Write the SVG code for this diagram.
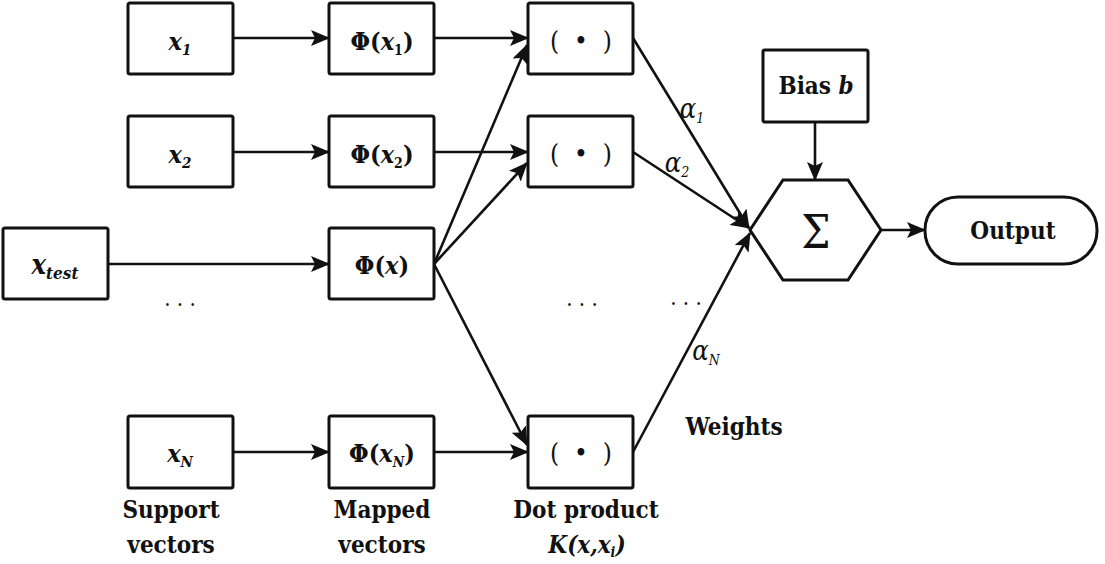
<svg xmlns="http://www.w3.org/2000/svg" width="1105" height="564" viewBox="0 0 1105 564">
<style>
.box{fill:#fff;stroke:#111;stroke-width:3}
.ln{fill:none;stroke:#111;stroke-width:2.6}
.i{font-style:italic}
.n{font-weight:normal}
</style>
<defs>
<marker id="ah" markerUnits="userSpaceOnUse" markerWidth="20" markerHeight="16" refX="18" refY="8" orient="auto">
<path d="M0,0 L19,8 L0,16 L4,8 Z" fill="#111"/>
</marker>
</defs>
<rect width="1105" height="564" fill="#fff"/>
<g id="connectors" class="ln">
<line x1="233" y1="38" x2="329" y2="38" marker-end="url(#ah)"/>
<line x1="233" y1="152" x2="329" y2="152" marker-end="url(#ah)"/>
<line x1="108" y1="264" x2="329" y2="264" marker-end="url(#ah)"/>
<line x1="233" y1="452" x2="329" y2="452" marker-end="url(#ah)"/>
<line x1="434" y1="38" x2="528" y2="38" marker-end="url(#ah)"/>
<line x1="434" y1="152" x2="528" y2="152" marker-end="url(#ah)"/>
<line x1="434" y1="452" x2="528" y2="452" marker-end="url(#ah)"/>
<line x1="434" y1="264" x2="527" y2="45" marker-end="url(#ah)"/>
<line x1="434" y1="264" x2="527" y2="163" marker-end="url(#ah)"/>
<line x1="434" y1="264" x2="527" y2="445" marker-end="url(#ah)"/>
<line x1="633" y1="38" x2="749" y2="228" marker-end="url(#ah)"/>
<line x1="633" y1="152" x2="749" y2="228" marker-end="url(#ah)"/>
<line x1="633" y1="452" x2="750" y2="233" marker-end="url(#ah)"/>
<line x1="815" y1="122" x2="815" y2="180" marker-end="url(#ah)"/>
<line x1="882" y1="230" x2="925" y2="230" marker-end="url(#ah)"/>
</g>
<g font-family="'DejaVu Serif', 'Liberation Serif', 'Times New Roman', serif" font-stretch="condensed" font-weight="bold" text-anchor="middle" fill="#111">
<g id="x1"><rect class="box" x="128" y="3" width="105" height="71" rx="2"/><text class="i" x="180" y="50" font-size="25">x<tspan font-size="15" dy="5">1</tspan></text></g>
<g id="x2"><rect class="box" x="128" y="116" width="105" height="71" rx="2"/><text class="i" x="180" y="163" font-size="25">x<tspan font-size="15" dy="5">2</tspan></text></g>
<g id="xtest"><rect class="box" x="3" y="228" width="105" height="71" rx="2"/><text class="i" x="55" y="274" font-size="27">x<tspan font-size="17" dy="5">test</tspan></text></g>
<g id="xN"><rect class="box" x="128" y="416" width="105" height="72" rx="2"/><text class="i" x="180" y="462" font-size="25">x<tspan font-size="15" dy="5">N</tspan></text></g>
<g id="phix1"><rect class="box" x="329" y="3" width="105" height="71" rx="2"/><text x="382" y="50" font-size="25">Φ(<tspan class="i">x</tspan><tspan font-size="14" dy="5">1</tspan><tspan dy="-5">)</tspan></text></g>
<g id="phix2"><rect class="box" x="329" y="116" width="105" height="71" rx="2"/><text x="382" y="163" font-size="25">Φ(<tspan class="i">x</tspan><tspan font-size="14" dy="5">2</tspan><tspan dy="-5">)</tspan></text></g>
<g id="phix"><rect class="box" x="329" y="228" width="105" height="71" rx="2"/><text x="382" y="274" font-size="25">Φ(<tspan class="i">x</tspan>)</text></g>
<g id="phixN"><rect class="box" x="329" y="416" width="105" height="72" rx="2"/><text x="382" y="462" font-size="25">Φ(<tspan class="i">x</tspan><tspan class="i" font-size="14" dy="5">N</tspan><tspan dy="-5">)</tspan></text></g>
<g id="dot1"><rect class="box" x="528" y="3" width="105" height="71" rx="2"/><text class="n" x="581" y="50" font-size="26" xml:space="preserve">(  •  )</text></g>
<g id="dot2"><rect class="box" x="528" y="116" width="105" height="71" rx="2"/><text class="n" x="581" y="163" font-size="26" xml:space="preserve">(  •  )</text></g>
<g id="dot3"><rect class="box" x="528" y="416" width="105" height="72" rx="2"/><text class="n" x="581" y="462" font-size="26" xml:space="preserve">(  •  )</text></g>
<g id="bias"><rect class="box" x="763" y="50" width="105" height="72" rx="2"/><text x="816" y="94" font-size="24">Bias <tspan class="i">b</tspan></text></g>
<g id="sum"><polygon class="box" points="750,230 783,180 848,180 881,230 848,280 783,280"/><text class="n" x="816" y="248" font-size="46">Σ</text></g>
<g id="output"><rect class="box" x="925" y="197" width="172" height="67" rx="33"/><text x="1013" y="239" font-size="24">Output</text></g>
<g id="labels">
<text class="i n" x="692" y="118" font-size="27">α<tspan font-size="14" dy="5">1</tspan></text>
<text class="i n" x="677" y="172" font-size="27">α<tspan font-size="14" dy="5">2</tspan></text>
<text class="i n" x="706" y="360" font-size="27">α<tspan font-size="14" dy="5">N</tspan></text>
<text x="734" y="435" font-size="24">Weights</text>
<text class="n" x="180" y="306" font-size="22" xml:space="preserve">. . .</text>
<text class="n" x="582" y="306" font-size="22" xml:space="preserve">. . .</text>
<text class="n" x="686" y="305" font-size="22" xml:space="preserve">. . .</text>
<text x="171" y="518" font-size="24">Support</text>
<text x="171" y="553" font-size="24">vectors</text>
<text x="382" y="518" font-size="24">Mapped</text>
<text x="382" y="553" font-size="24">vectors</text>
<text x="586" y="518" font-size="24">Dot product</text>
<text class="i" x="587" y="553" font-size="24">K(x,x<tspan font-size="14" dy="4">i</tspan><tspan dy="-4">)</tspan></text>
</g>
</g>
</svg>
